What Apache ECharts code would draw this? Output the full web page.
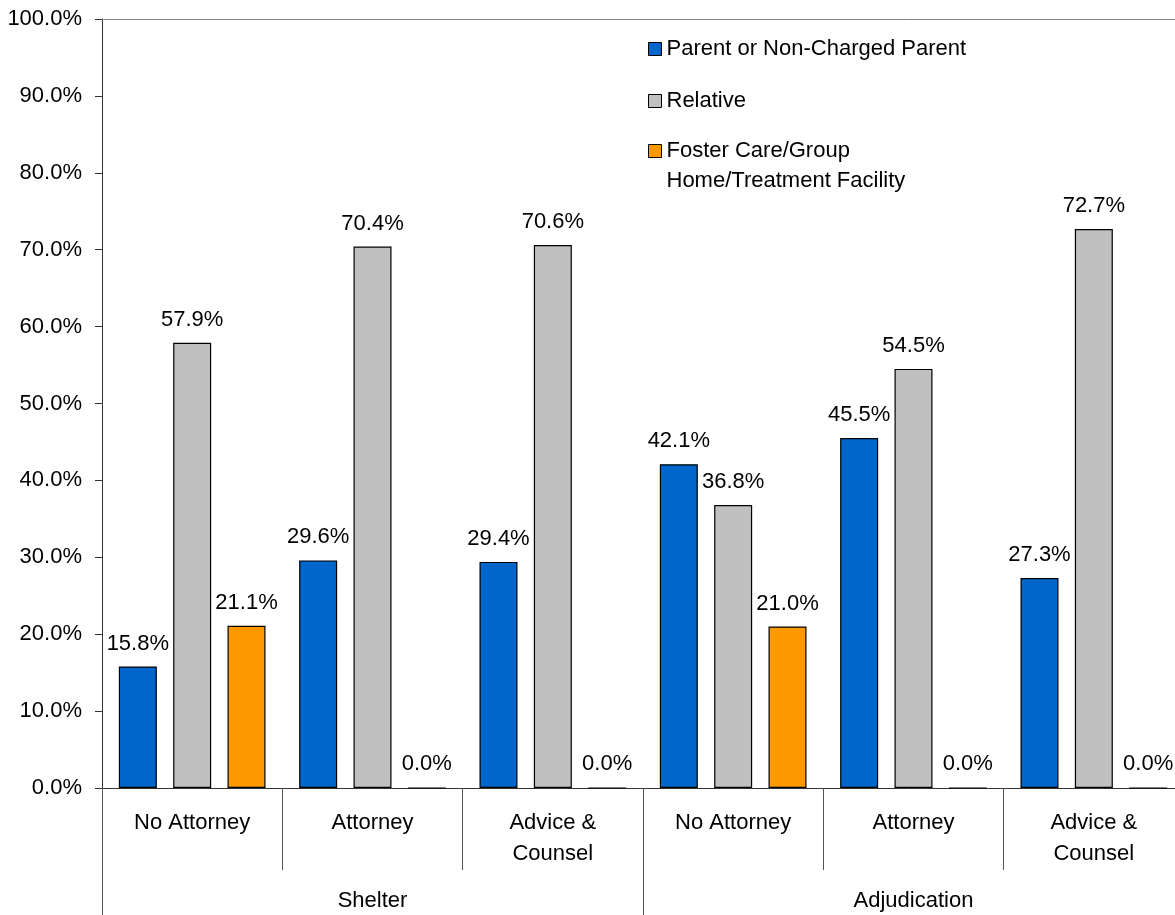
<!DOCTYPE html>
<html>
<head>
<meta charset="utf-8">
<script src="https://cdn.jsdelivr.net/npm/echarts@6/dist/echarts.min.js"></script>
<style>
html,body{margin:0;padding:0;background:#fff;overflow:hidden;}
#chart{width:1175px;height:915px;}
</style>
</head>
<body>
<div id="chart"></div>
<script>
const categories = ['No Attorney', 'Attorney', 'Advice &\nCounsel', 'No Attorney', 'Attorney', 'Advice &\nCounsel'];
const groups = ['Shelter', 'Adjudication'];
const seriesNames = ['Parent or Non-Charged Parent', 'Relative', 'Foster Care/Group Home/Treatment Facility'];
const parentVals = [15.8, 29.6, 29.4, 42.1, 45.5, 27.3];
const relativeVals = [57.9, 70.4, 70.6, 36.8, 54.5, 72.7];
const fosterVals = [21.1, 0.0, 0.0, 21.0, 0.0, 0.0];
const colors = ['#0066CC', '#C0C0C0', '#FF9900'];

const FONT = 'Liberation Sans, Arial, Helvetica, sans-serif';
const FS = 22;
const chart = echarts.init(document.getElementById('chart'));

function barSeries(name, data, color) {
  return {
    name: name,
    type: 'bar',
    data: data,
    barWidth: 38,
    barGap: '43%',
    itemStyle: { color: color, borderColor: '#000', borderWidth: 1.2 },
    label: {
      show: true, position: 'top', distance: 12,
      color: '#000', fontSize: FS, fontFamily: FONT,
      formatter: p => p.value.toFixed(1) + '%'
    },
    emphasis: { disabled: true }
  };
}

const legendText = { fontSize: FS, fontFamily: FONT, color: '#000', lineHeight: 30 };

chart.setOption({
  animation: false,
  textStyle: { fontFamily: FONT },
  grid: { left: 102, width: 1082, top: 19, bottom: 127, containLabel: false, outerBoundsMode: 'none' },
  legend: [
    {
      orient: 'vertical', left: 648, top: 34, padding: 0,
      itemWidth: 13, itemHeight: 13, itemGap: 22, icon: 'rect',
      data: [seriesNames[0], seriesNames[1]],
      textStyle: legendText,
      itemStyle: { borderColor: '#000', borderWidth: 1 }
    },
    {
      orient: 'vertical', left: 648, top: 106, padding: 0,
      itemWidth: 13, itemHeight: 13, icon: 'rect',
      data: [seriesNames[2]],
      formatter: n => '\n' + n.replace('Group ', 'Group\n'),
      textStyle: legendText,
      itemStyle: { borderColor: '#000', borderWidth: 1 }
    }
  ],
  xAxis: [
    {
      type: 'category', data: categories, position: 'bottom',
      axisLine: { lineStyle: { color: '#333', width: 1 } },
      axisTick: { show: true, interval: 0, length: 82, lineStyle: { color: '#555' } },
      axisLabel: { interval: 0, color: '#000', fontSize: FS, fontFamily: FONT, lineHeight: 31, margin: 19 }
    },
    {
      type: 'category', data: groups, position: 'bottom',
      axisLine: { show: false },
      axisTick: { show: true, interval: 0, length: 127, lineStyle: { color: '#555' } },
      axisLabel: { interval: 0, color: '#000', fontSize: FS, fontFamily: FONT, lineHeight: 22, margin: 102 }
    },
    {
      type: 'category', data: categories, position: 'top',
      axisLine: { show: true, lineStyle: { color: '#888', width: 1 } },
      axisTick: { show: false }, axisLabel: { show: false }
    }
  ],
  yAxis: {
    type: 'value', min: 0, max: 100, interval: 10,
    axisLine: { show: true, lineStyle: { color: '#333' } },
    axisTick: { show: true, length: 7, lineStyle: { color: '#333' } },
    splitLine: { show: false },
    axisLabel: { color: '#000', fontSize: FS, fontFamily: FONT, margin: 20, formatter: v => v.toFixed(1) + '%' }
  },
  series: [
    barSeries(seriesNames[0], parentVals, colors[0]),
    barSeries(seriesNames[1], relativeVals, colors[1]),
    barSeries(seriesNames[2], fosterVals, colors[2])
  ]
});
</script>
</body>
</html>
